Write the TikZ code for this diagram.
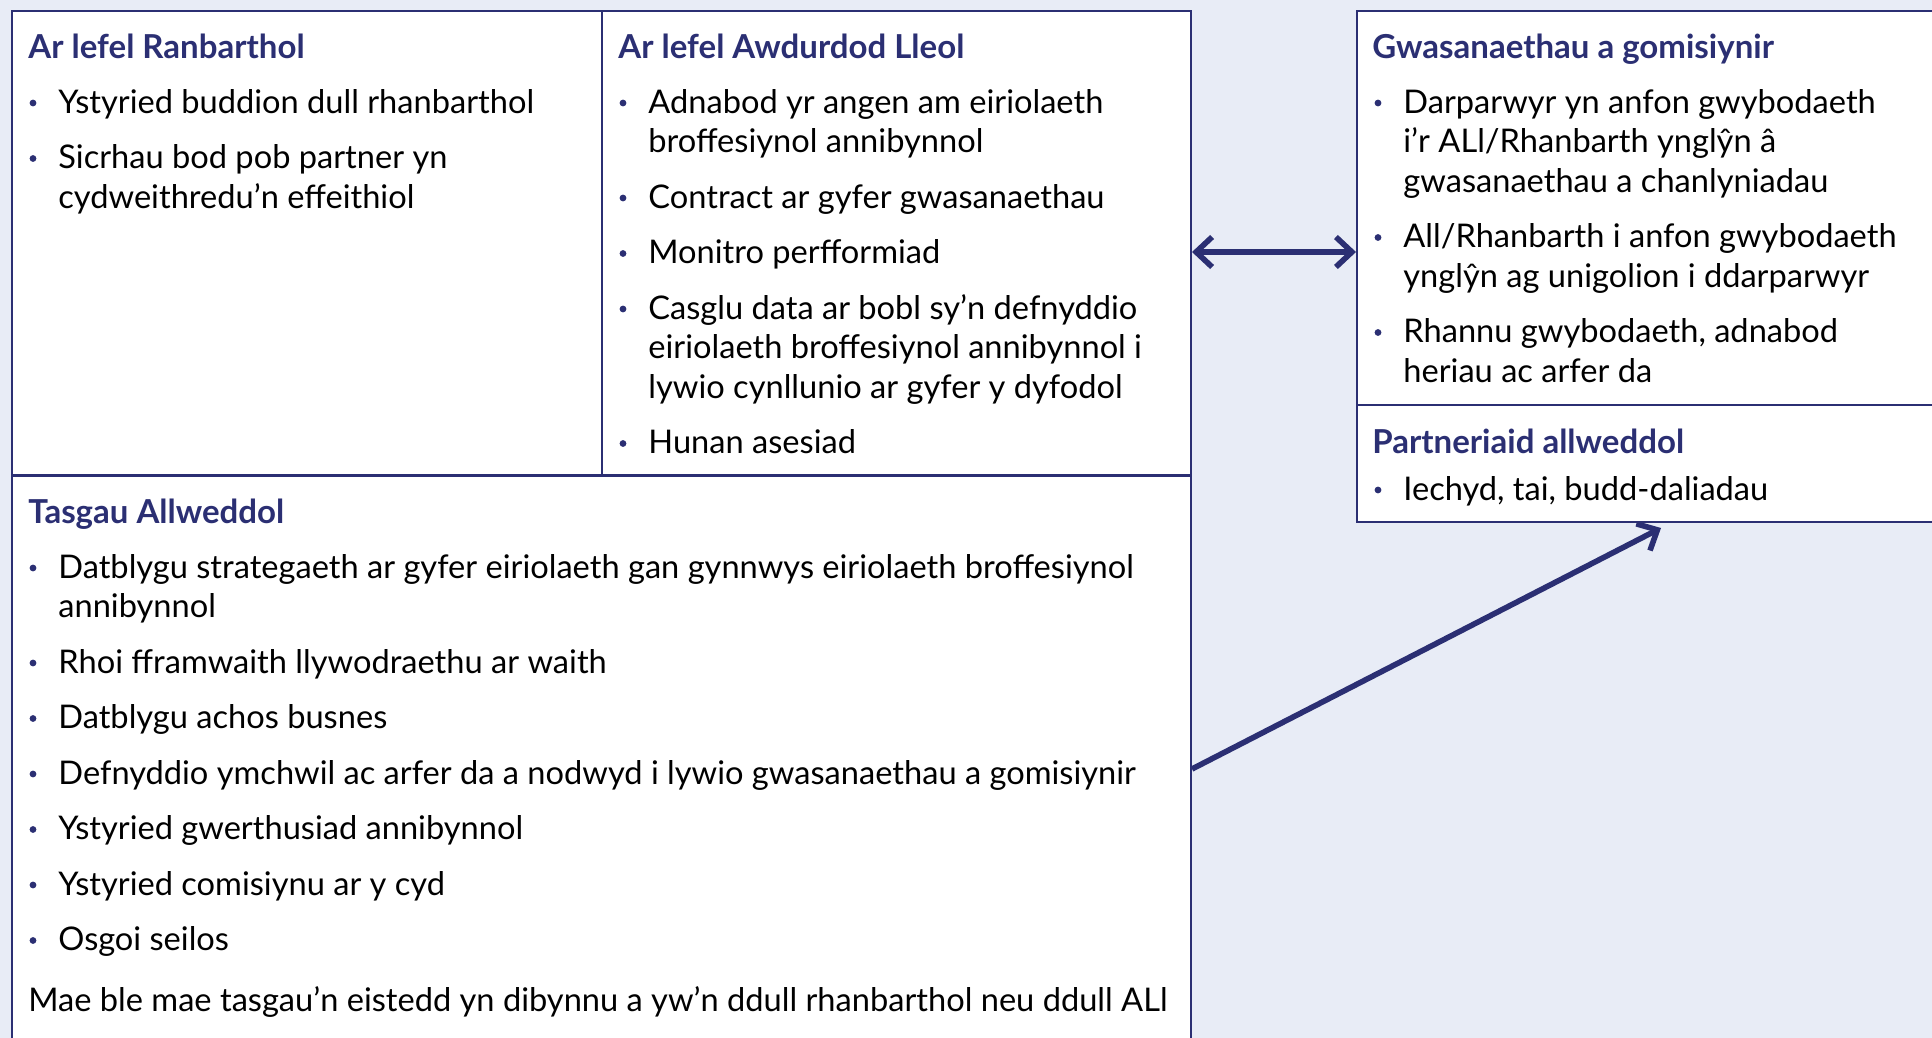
\documentclass[tikz,border=0pt]{standalone}
\usepackage{fontspec}
\setmainfont{Lato}
\usetikzlibrary{arrows.meta}
\definecolor{navy}{RGB}{43,47,115}
\definecolor{bgc}{RGB}{232,236,246}
\newcommand\bitem[4]{%
  \node[dot] (#1d) at (#2-25,#3-10) {};
  \node[txt] (#1) at (#2,#3) {#4};}
\newcommand\contline[4]{\node[txt] (#1) at (#2,#3) {#4};}
\begin{document}
\begin{tikzpicture}[x=0.5pt,y=-0.5pt,
  panel/.style={draw=navy, line width=1.1pt, fill=white, anchor=north west, inner sep=0pt, outer sep=0pt},
  div/.style={draw=navy, line width=1.1pt},
  head/.style={anchor=base west, inner sep=0pt, text=navy, font=\fontsize{16.5}{19.7}\selectfont\bfseries},
  txt/.style={anchor=base west, inner sep=0pt, text=black, font=\fontsize{16.3}{19.7}\selectfont},
  dot/.style={circle, fill=navy, draw=none, minimum size=3.4pt, inner sep=0pt},
  conn/.style={draw=navy, line width=2.8pt},
  >={Straight Barb[length=8pt,width=15pt]}
]
\fill[bgc] (0,0) rectangle (1932,1038);
\useasboundingbox (0,0) rectangle (1932,1038);
\clip (0,0) rectangle (1932,1038);

% panels
\node[panel, minimum width=589.5pt, minimum height=540pt] (bigbox) at (12,11) {};
\node[panel, minimum width=300pt, minimum height=255.5pt] (rbox) at (1357,11) {};
\draw[div] (602,11) -- (602,475.5);
\draw[div] (12,475.5) -- (1191,475.5);
\draw[div] (1357,405) -- (1940,405);

% left panel
\node[head] (hreg) at (28,59) {Ar lefel Ranbarthol};
\bitem{l1}{58}{113}{Ystyried buddion dull rhanbarthol}
\bitem{l2}{58}{168.5}{Sicrhau bod pob partner yn}
\contline{l2b}{58}{208}{cydweithredu’n effeithiol}

% middle panel
\node[head] (hla) at (618,59) {Ar lefel Awdurdod Lleol};
\bitem{m1}{648}{113}{Adnabod yr angen am eiriolaeth}
\contline{m1b}{648}{152.5}{broffesiynol annibynnol}
\bitem{m2}{648}{208}{Contract ar gyfer gwasanaethau}
\bitem{m3}{648}{263.5}{Monitro perfformiad}
\bitem{m4}{648}{319}{Casglu data ar bobl sy’n defnyddio}
\contline{m4b}{648}{358.5}{eiriolaeth broffesiynol annibynnol i}
\contline{m4c}{648}{398}{lywio cynllunio ar gyfer y dyfodol}
\bitem{m5}{648}{453.5}{Hunan asesiad}

% bottom panel
\node[head] (htask) at (28,523) {Tasgau Allweddol};
\bitem{b1}{58}{578}{Datblygu strategaeth ar gyfer eiriolaeth gan gynnwys eiriolaeth broffesiynol}
\contline{b1b}{58}{617.5}{annibynnol}
\bitem{b2}{58}{673}{Rhoi fframwaith llywodraethu ar waith}
\bitem{b3}{58}{728.5}{Datblygu achos busnes}
\bitem{b4}{58}{784}{Defnyddio ymchwil ac arfer da a nodwyd i lywio gwasanaethau a gomisiynir}
\bitem{b5}{58}{839.5}{Ystyried gwerthusiad annibynnol}
\bitem{b6}{58}{895}{Ystyried comisiynu ar y cyd}
\bitem{b7}{58}{950.5}{Osgoi seilos}
\contline{bnote}{28}{1011}{Mae ble mae tasgau’n eistedd yn dibynnu a yw’n ddull rhanbarthol neu ddull ALl}

% right panel
\node[head] (hserv) at (1372,59) {Gwasanaethau a gomisiynir};
\bitem{r1}{1403}{113}{Darparwyr yn anfon gwybodaeth}
\contline{r1b}{1403}{152.5}{i’r ALl/Rhanbarth ynglŷn â}
\contline{r1c}{1403}{192}{gwasanaethau a chanlyniadau}
\bitem{r2}{1403}{247.5}{All/Rhanbarth i anfon gwybodaeth}
\contline{r2b}{1403}{287}{ynglŷn ag unigolion i ddarparwyr}
\bitem{r3}{1403}{342.5}{Rhannu gwybodaeth, adnabod}
\contline{r3b}{1403}{382}{heriau ac arfer da}
\node[head] (hpart) at (1372,453) {Partneriaid allweddol};
\bitem{r4}{1403}{500}{Iechyd, tai, budd-daliadau}

% connectors
\coordinate (dL) at (1192,252);
\coordinate (dR) at (1356,252);
\draw[conn, <->] (dL) -- (dR);
\coordinate (aS) at (1192,769);
\coordinate (aE) at (1661,528);
\draw[conn, ->] (aS) -- (aE);
\end{tikzpicture}
\end{document}
